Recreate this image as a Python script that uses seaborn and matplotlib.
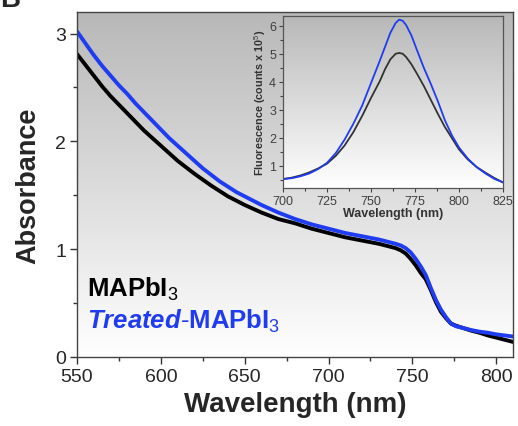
import numpy as np
import pandas as pd
import matplotlib
matplotlib.use("Agg")
import matplotlib.pyplot as plt
from matplotlib.colors import LinearSegmentedColormap
from matplotlib.ticker import MultipleLocator
import seaborn as sns

# ---- data: absorbance (main) ----
abs_wl = [550, 555, 560, 565, 570, 575, 580, 585, 590, 595, 600, 605, 610, 615, 620, 625,
          630, 635, 640, 645, 650, 655, 660, 665, 670, 675, 680, 685, 690, 695, 700, 710,
          720, 730, 735, 740, 743, 746, 749, 752, 755, 758, 761, 764, 767, 770, 773, 776,
          780, 785, 790, 795, 800, 805, 810]
abs_treated = [3.02, 2.91, 2.80, 2.70, 2.61, 2.52, 2.44, 2.35, 2.27, 2.19, 2.11, 2.03, 1.96, 1.89, 1.82, 1.75,
               1.69, 1.63, 1.58, 1.53, 1.49, 1.45, 1.41, 1.375, 1.34, 1.31, 1.28, 1.255, 1.23, 1.21, 1.19, 1.15,
               1.12, 1.09, 1.07, 1.05, 1.035, 1.01, 0.97, 0.91, 0.84, 0.76, 0.64, 0.53, 0.44, 0.37, 0.31, 0.285,
               0.27, 0.25, 0.235, 0.225, 0.21, 0.20, 0.19]
abs_pristine = [2.81, 2.71, 2.61, 2.51, 2.42, 2.34, 2.26, 2.18, 2.10, 2.03, 1.96, 1.89, 1.82, 1.76, 1.70, 1.645,
                1.59, 1.54, 1.49, 1.45, 1.41, 1.375, 1.34, 1.31, 1.28, 1.26, 1.24, 1.215, 1.19, 1.17, 1.15, 1.11,
                1.08, 1.05, 1.03, 1.01, 0.99, 0.96, 0.91, 0.85, 0.78, 0.72, 0.62, 0.51, 0.42, 0.36, 0.31, 0.29,
                0.27, 0.245, 0.225, 0.20, 0.18, 0.16, 0.14]

# ---- data: fluorescence (inset) ----
pl_wl = [700, 705, 710, 715, 720, 725, 730, 735, 740, 745, 750, 755, 758, 761, 764, 766,
         768, 770, 773, 776, 780, 784, 788, 792, 796, 800, 805, 810, 815, 820, 825]
pl_treated = [0.52, 0.55, 0.62, 0.72, 0.88, 1.10, 1.45, 1.93, 2.50, 3.15, 3.95, 4.75, 5.25, 5.75, 6.10, 6.22,
              6.18, 6.02, 5.65, 5.15, 4.50, 3.92, 3.30, 2.62, 2.08, 1.65, 1.25, 0.95, 0.72, 0.53, 0.40]
pl_pristine = [0.52, 0.57, 0.65, 0.76, 0.90, 1.07, 1.35, 1.72, 2.20, 2.78, 3.42, 4.02, 4.45, 4.80, 5.00, 5.03,
               5.00, 4.88, 4.62, 4.30, 3.85, 3.35, 2.85, 2.38, 1.98, 1.58, 1.22, 0.95, 0.75, 0.56, 0.40]

abs_df = pd.concat([
    pd.DataFrame({"wl": abs_wl, "val": abs_pristine, "s": "MAPbI3"}),
    pd.DataFrame({"wl": abs_wl, "val": abs_treated, "s": "Treated"}),
])
pl_df = pd.concat([
    pd.DataFrame({"wl": pl_wl, "val": pl_pristine, "s": "MAPbI3"}),
    pd.DataFrame({"wl": pl_wl, "val": pl_treated, "s": "Treated"}),
])

sns.set_style("ticks")
plt.rcParams["font.family"] = ["Liberation Sans", "DejaVu Sans"]
plt.rcParams["mathtext.fontset"] = "custom"
plt.rcParams["mathtext.rm"] = "Liberation Sans"
plt.rcParams["mathtext.it"] = "Liberation Sans:italic"
plt.rcParams["mathtext.bf"] = "Liberation Sans:bold"
plt.rcParams["mathtext.bfit"] = "Liberation Sans:italic:bold"

BLUE = "#1f3cf0"
fig = plt.figure(figsize=(5.18, 4.27), dpi=100)
fig.patch.set_facecolor("white")

grad = np.linspace(0, 1, 256)[:, None]

# main axes
pos = [77 / 518, 1 - 358 / 427, 436 / 518, 345 / 427]
bg = fig.add_axes(pos, zorder=0)
bg.imshow(grad, aspect="auto", extent=[0, 1, 0, 1],
          cmap=LinearSegmentedColormap.from_list("g", ["#b8b8b8", "#ffffff"]))
bg.axis("off")

ax = fig.add_axes(pos, zorder=1)
ax.set_facecolor("none")
sns.lineplot(data=abs_df, x="wl", y="val", hue="s", palette={"MAPbI3": "black", "Treated": BLUE},
             linewidth=2.8, legend=False, ax=ax)
ax.set_xlim(550, 810)
ax.set_ylim(0, 3.2)
ax.xaxis.set_major_locator(MultipleLocator(50))
ax.xaxis.set_minor_locator(MultipleLocator(25))
ax.yaxis.set_major_locator(MultipleLocator(1))
ax.yaxis.set_minor_locator(MultipleLocator(0.5))
ax.tick_params(which="major", length=5, width=1, labelsize=14, color="#333333", pad=3)
ax.tick_params(which="minor", length=3, width=1, color="#333333")
for sp in ax.spines.values():
    sp.set_color("#444444")
    sp.set_linewidth(1)
ax.set_xlabel("Wavelength (nm)", fontsize=20, fontweight="bold", labelpad=4)
ax.set_ylabel("Absorbance", fontsize=19.5, fontweight="bold", labelpad=10)

ax.text(556.0, 0.565, r"$\mathbf{MAPbI}_{3}$", fontsize=18.5, color="black")
ax.text(556.0, 0.27, r"$\mathbfit{Treated}\mathbf{\text{-}MAPbI}_{3}$", fontsize=18.5, color=BLUE)

# inset
ipos = [283 / 518, 1 - 189 / 427, 220 / 518, 172 / 427]
ibg = fig.add_axes(ipos, zorder=2)
ibg.imshow(grad, aspect="auto", extent=[0, 1, 0, 1],
           cmap=LinearSegmentedColormap.from_list("g2", ["#b8b8b8", "#ffffff"]))
ibg.axis("off")
ins = fig.add_axes(ipos, zorder=3)
ins.set_facecolor("none")
sns.lineplot(data=pl_df, x="wl", y="val", hue="s", palette={"MAPbI3": "#333333", "Treated": BLUE},
             linewidth=1.3, legend=False, ax=ins)
ins.set_xlim(700, 825)
ins.set_ylim(0.2, 6.35)
ins.xaxis.set_major_locator(MultipleLocator(25))
ins.xaxis.set_minor_locator(MultipleLocator(12.5))
ins.yaxis.set_major_locator(MultipleLocator(1))
ins.yaxis.set_minor_locator(MultipleLocator(0.5))
ins.tick_params(which="major", length=3, width=0.8, labelsize=9, color="#444444",
                labelcolor="#404040", pad=2)
ins.tick_params(which="minor", length=2, width=0.8, color="#444444")
for sp in ins.spines.values():
    sp.set_color("#555555")
    sp.set_linewidth(0.9)
ins.set_xlabel("Wavelength (nm)", fontsize=9, fontweight="bold", color="#333333", labelpad=0)
ins.set_ylabel(r"Fluorescence (counts x 10$^{5}$)", fontsize=7.8, fontweight="bold",
               color="#333333", labelpad=1)

fig.text(0.0, 1 - 7 / 427, "B", fontsize=20, fontweight="bold", ha="left", va="baseline")

fig.savefig("out.png", dpi=100)
